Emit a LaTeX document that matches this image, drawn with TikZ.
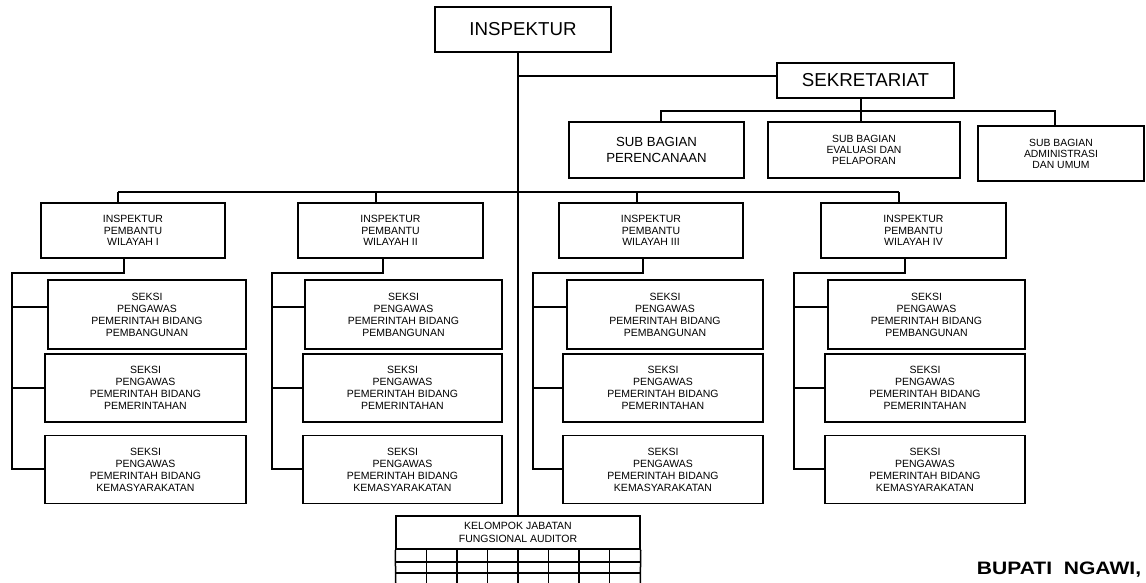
\documentclass[tikz,border=0pt]{standalone}
\usepackage{fontspec}
\setmainfont{Liberation Sans}
\tikzset{
  box/.style={draw, line width=1.5pt, inner sep=0pt, align=center, anchor=center},
  big/.style={font=\fontsize{18.7}{22}\selectfont},
  mid/.style={font=\fontsize{13.2}{16}\selectfont},
  small/.style={font=\fontsize{10.4}{11}\selectfont},
  seksi/.style={box, font=\fontsize{10.5}{12}\selectfont},
  ln/.style={line width=1.5pt},
}
\begin{document}
\begin{tikzpicture}[x=1pt,y=-1pt]
\clip (0,0) rectangle (1146,583);
\fill[white] (0,0) rectangle (1146,583);

% top
\node[box,big,minimum width=176,minimum height=45] (insp) at (523,29.5) {INSPEKTUR};
\node[box,big,minimum width=177,minimum height=35] (sekr) at (865.5,80.5) {SEKRETARIAT};
\node[box,mid,minimum width=175,minimum height=56] (perenc) at (656.5,150) {SUB BAGIAN\\PERENCANAAN};
\node[box,small,minimum width=192,minimum height=56] (eval) at (864,150) {SUB BAGIAN\\EVALUASI DAN\\PELAPORAN};
\node[box,small,minimum width=166,minimum height=55] (admin) at (1061,153.5) {SUB BAGIAN\\ADMINISTRASI\\DAN UMUM};

% inspektur pembantu
\node[box,small,font=\fontsize{10.5}{11.2}\selectfont,minimum width=184,minimum height=55] (ip1) at (133,230.5) {INSPEKTUR\\PEMBANTU\\WILAYAH I};
\node[box,small,font=\fontsize{10.5}{11.2}\selectfont,minimum width=185,minimum height=55] (ip2) at (390.5,230.5) {INSPEKTUR\\PEMBANTU\\WILAYAH II};
\node[box,small,font=\fontsize{10.5}{11.2}\selectfont,minimum width=184,minimum height=55] (ip3) at (651,230.5) {INSPEKTUR\\PEMBANTU\\WILAYAH III};
\node[box,small,font=\fontsize{10.5}{11.2}\selectfont,minimum width=185,minimum height=55] (ip4) at (913.5,230.5) {INSPEKTUR\\PEMBANTU\\WILAYAH IV};

% seksi boxes
\foreach \c/\xa/\xb/\xc in {1/48/45/246, 2/305/303/502, 3/567/563/763, 4/828/825/1025}{
  \node[seksi,minimum width={\xc-\xa},minimum height=69] (s\c a) at ({(\xa+\xc)/2},314.5) {SEKSI\\PENGAWAS\\PEMERINTAH BIDANG\\PEMBANGUNAN};
  \node[seksi,minimum width={\xc-\xb},minimum height=68] (s\c b) at ({(\xb+\xc)/2},388) {SEKSI\\PENGAWAS\\PEMERINTAH BIDANG\\PEMERINTAHAN};
  \node[seksi,minimum width={\xc-\xb},minimum height=68] (s\c c) at ({(\xb+\xc)/2},469.5) {SEKSI\\PENGAWAS\\PEMERINTAH BIDANG\\KEMASYARAKATAN};
}

% kelompok
\node[box,minimum width=244,minimum height=33,font=\fontsize{10.5}{13}\selectfont] (kel) at (518,532.5) {KELOMPOK JABATAN\\FUNGSIONAL AUDITOR};
\draw[ln] (kel.south west) -- (396,600) (kel.south east) -- (640,600);
\foreach \yy in {562,573,586}{ \draw[ln] (kel.south west |- 0,\yy) -- (kel.south east |- 0,\yy); }
\foreach \k in {1,...,7}{ \draw[ln] ({396+\k*30.5},549) -- ({396+\k*30.5},600); }

% trunk
\coordinate (t) at (518,0);
\draw[ln] (insp.south -| t) -- (kel.north -| t);
\draw[ln] (t |- 0,76) -- (sekr.west |- 0,76);

% sekretariat branches
\coordinate (sb) at (861,111);
\draw[ln] (sekr.south -| sb) -- (sb);
\draw[ln] (perenc.north -| 661,0) -- (661,111) -- (1055,111) -- (admin.north -| 1055,0);
\draw[ln] (sb) -- (eval.north -| sb);

% inspektur pembantu bus
\draw[ln] (118,192) -- (899,192);
\draw[ln] (118,192) -- (ip1.north -| 118,0);
\draw[ln] (376,192) -- (ip2.north -| 376,0);
\draw[ln] (637,192) -- (ip3.north -| 637,0);
\draw[ln] (899,192) -- (ip4.north -| 899,0);

% column connectors
\foreach \c/\bx/\lx in {1/124/12, 2/383/272, 3/643/533, 4/905/794}{
  \draw[ln] (ip\c.south -| \bx,0) -- (\bx,273) -- (\lx,273) -- (\lx,469) -- (s\c c.west |- 0,469);
  \draw[ln] (\lx,307) -- (s\c a.west |- 0,307);
  \draw[ln] (\lx,388) -- (s\c b.west |- 0,388);
}

\node[font=\bfseries\fontsize{18}{20}\selectfont, inner sep=0pt] (bup) at (1059,570) {\scalebox{1.17}[1]{BUPATI\ \ NGAWI,}};
\end{tikzpicture}
\end{document}
